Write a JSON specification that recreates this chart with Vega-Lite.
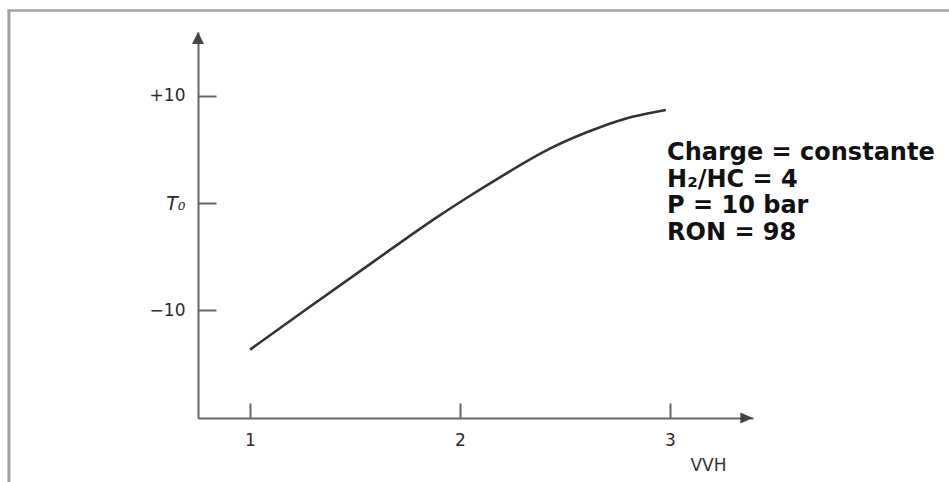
{
  "$schema": "https://vega.github.io/schema/vega-lite/v6.json",
  "width": 555,
  "height": 386,
  "autosize": {"type": "none"},
  "padding": {"left": 198, "top": 32, "right": 196, "bottom": 64},
  "background": "white",
  "config": {
    "view": {"stroke": null},
    "font": "DejaVu Sans"
  },
  "datasets": {
    "curve": [
      {"vvh": 1.0, "t": -13.7},
      {"vvh": 1.27, "t": -9.9},
      {"vvh": 1.59, "t": -5.45},
      {"vvh": 1.9, "t": -1.2},
      {"vvh": 2.05, "t": 0.7},
      {"vvh": 2.19, "t": 2.4},
      {"vvh": 2.43, "t": 5.1},
      {"vvh": 2.67, "t": 7.1},
      {"vvh": 2.82, "t": 8.05},
      {"vvh": 2.98, "t": 8.7}
    ],
    "one": [{}]
  },
  "layer": [
    {
      "data": {"name": "curve"},
      "mark": {"type": "line", "color": "#333333", "strokeWidth": 2.6, "interpolate": "monotone"},
      "encoding": {
        "x": {
          "field": "vvh",
          "type": "quantitative",
          "scale": {"domain": [0.7524, 3.3952], "nice": false, "zero": false},
          "axis": {
            "values": [1, 2, 3],
            "format": "d",
            "grid": false,
            "domainColor": "#666666",
            "domainWidth": 2,
            "tickColor": "#666666",
            "tickWidth": 2,
            "tickSize": -15,
            "labelFontSize": 17,
            "labelColor": "#2a2a2a",
            "labelPadding": 29,
            "title": "VVH",
            "titleX": 510,
            "titleY": 47,
            "titleAlign": "center",
            "titleBaseline": "middle",
            "titleFontSize": 17,
            "titleFontWeight": "normal",
            "titleColor": "#333333"
          }
        },
        "y": {
          "field": "t",
          "type": "quantitative",
          "scale": {"domain": [-20.09, 15.98], "nice": false, "zero": false},
          "axis": {
            "values": [-10, 0, 10],
            "grid": false,
            "domainColor": "#666666",
            "domainWidth": 2,
            "tickColor": "#666666",
            "tickWidth": 2,
            "tickSize": -18,
            "labelFontSize": {"condition": {"test": "datum.value == 0", "value": 19}, "value": 17},
            "labelColor": "#2a2a2a",
            "labelPadding": 31,
            "labelExpr": "datum.value == 0 ? 'T₀' : (datum.value > 0 ? '+' + datum.value : '−' + abs(datum.value))",
            "labelFontStyle": {"condition": {"test": "datum.value == 0", "value": "italic"}, "value": "normal"},
            "title": null
          }
        }
      }
    },
    {
      "data": {"name": "one"},
      "mark": {"type": "point", "shape": "M0,0L-1,2L1,2Z", "filled": true, "size": 144, "color": "#444444", "opacity": 1},
      "encoding": {
        "x": {"datum": 0.7524, "type": "quantitative"},
        "y": {"datum": 15.98, "type": "quantitative"}
      }
    },
    {
      "data": {"name": "one"},
      "mark": {"type": "point", "shape": "M0,0L-2,-0.85L-2,0.85Z", "filled": true, "size": 160, "color": "#444444", "opacity": 1},
      "encoding": {
        "x": {"datum": 3.3952, "type": "quantitative"},
        "y": {"datum": -20.09, "type": "quantitative"}
      }
    },
    {
      "data": {"name": "one"},
      "mark": {
        "type": "text",
        "text": ["Charge = constante", "H₂/HC = 4", "P = 10 bar", "RON = 98"],
        "align": "left",
        "baseline": "alphabetic",
        "font": "DejaVu Sans",
        "fontWeight": "bold",
        "fontSize": 24,
        "lineHeight": 26.7,
        "color": "#111111"
      },
      "encoding": {
        "x": {"datum": 2.986, "type": "quantitative"},
        "y": {"datum": 4.02, "type": "quantitative"}
      }
    },
    {
      "data": {"name": "one"},
      "mark": {"type": "rule", "color": "#a0a0a0", "strokeWidth": 2.5},
      "encoding": {
        "x": {"datum": -0.155, "type": "quantitative"},
        "x2": {"datum": 4.33},
        "y": {"datum": 18.0, "type": "quantitative"}
      }
    },
    {
      "data": {"name": "one"},
      "mark": {"type": "rule", "color": "#a0a0a0", "strokeWidth": 3},
      "encoding": {
        "x": {"datum": -0.148, "type": "quantitative"},
        "y": {"datum": 18.0, "type": "quantitative"},
        "y2": {"datum": -26.1}
      }
    }
  ]
}
